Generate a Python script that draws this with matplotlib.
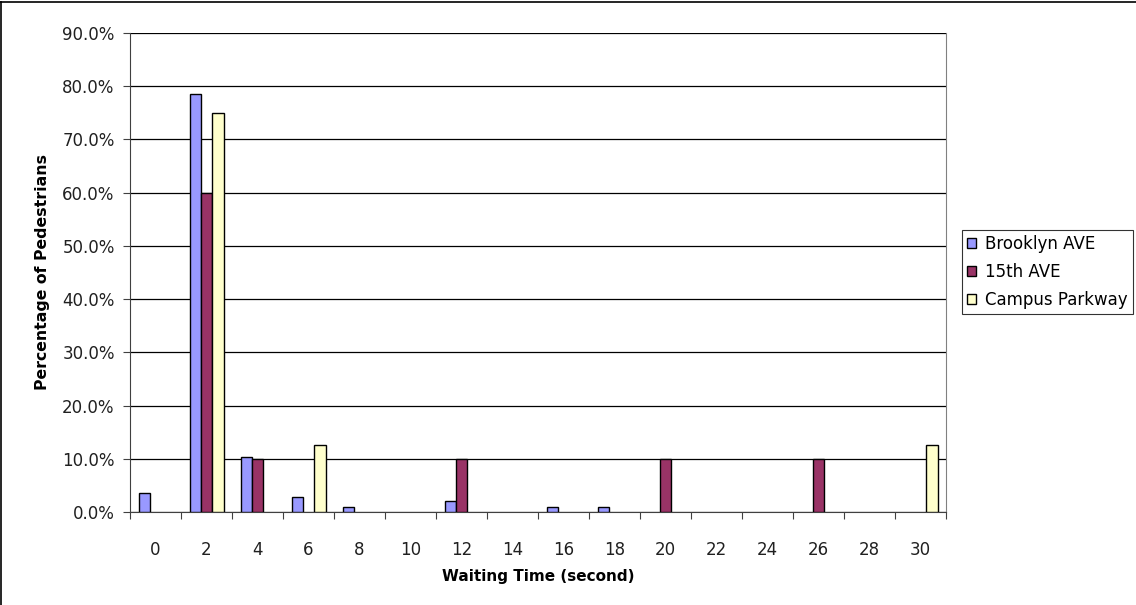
import matplotlib
matplotlib.use("Agg")
import matplotlib.pyplot as plt
import numpy as np
from matplotlib.lines import Line2D

categories = ["0", "2", "4", "6", "8", "10", "12", "14", "16", "18", "20", "22", "24", "26", "28", "30"]
brooklyn = [3.6, 78.5, 10.3, 2.9, 1.0, 0.0, 2.1, 0.0, 1.0, 1.0, 0.0, 0.0, 0.0, 0.0, 0.0, 0.0]
fifteenth = [0.0, 60.0, 10.0, 0.0, 0.0, 0.0, 10.0, 0.0, 0.0, 0.0, 10.0, 0.0, 0.0, 10.0, 0.0, 0.0]
campus = [0.0, 75.0, 0.0, 12.5, 0.0, 0.0, 0.0, 0.0, 0.0, 0.0, 0.0, 0.0, 0.0, 0.0, 0.0, 12.5]
series_names = ["Brooklyn AVE", "15th AVE", "Campus Parkway"]
colors = ["#9999FF", "#993366", "#FFFFCC"]
yticks = [0, 10, 20, 30, 40, 50, 60, 70, 80, 90]

plt.rcParams['font.family'] = ['DejaVu Sans']

fig = plt.figure(figsize=(11.36, 6.05), dpi=100)
ax = fig.add_axes([130/1136, 1 - 512/605, (946-130)/1136, (512-33)/605])

n = len(categories)
x = np.arange(n)
w = 1 / 4.5
for i, (vals, name, c) in enumerate(zip([brooklyn, fifteenth, campus], series_names, colors)):
    v = np.array(vals, dtype=float)
    keep = v > 0
    ax.bar(x[keep] + (i - 1) * w, v[keep], width=w, color=c, edgecolor="black", linewidth=1.0,
           label=name, zorder=3)

ax.set_xlim(-0.5, n - 0.5)
ax.set_ylim(0, 90)
ax.set_yticks(yticks)
ax.set_yticklabels([f"{v:.1f}%" for v in yticks], fontsize=12, color="#202020")
ax.yaxis.grid(True, color="black", linewidth=0.9, zorder=0)
ax.set_axisbelow(True)

ax.set_xticks(np.arange(n + 1) - 0.5)
ax.set_xticklabels([])
ax.set_xticks(x, minor=True)
ax.set_xticklabels(categories, minor=True, fontsize=12, color="#202020")
ax.tick_params(axis="x", which="major", length=5, direction="out", color="#404040")
ax.tick_params(axis="x", which="minor", length=0, pad=21)
ax.tick_params(axis="y", length=5, direction="out", color="#404040", pad=6)

ax.spines["top"].set_visible(False)
ax.spines["right"].set_color("#808080")
ax.spines["left"].set_color("#404040")
ax.spines["bottom"].set_color("#404040")

ax.set_xlabel("Waiting Time (second)", fontsize=11, fontweight="bold", labelpad=7)
ax.set_ylabel("Percentage of Pedestrians", fontsize=11.3, fontweight="bold", labelpad=9)

leg = ax.legend(loc="upper left", bbox_to_anchor=(962/1136, 1 - 230/605), bbox_transform=fig.transFigure,
                fontsize=12, frameon=True, fancybox=False, edgecolor="black", handlelength=0.55,
                handleheight=0.55, handletextpad=0.55, borderpad=0.3, labelspacing=0.6,
                borderaxespad=0)
leg.get_frame().set_linewidth(0.8)

fig.add_artist(Line2D([0.5/1136, 0.5/1136], [0, 1 - 1.5/605], transform=fig.transFigure,
                      color="black", linewidth=1.2))
fig.add_artist(Line2D([0, 1], [1 - 1.5/605, 1 - 1.5/605], transform=fig.transFigure,
                      color="black", linewidth=1.2))

fig.savefig("out.png", dpi=100)
